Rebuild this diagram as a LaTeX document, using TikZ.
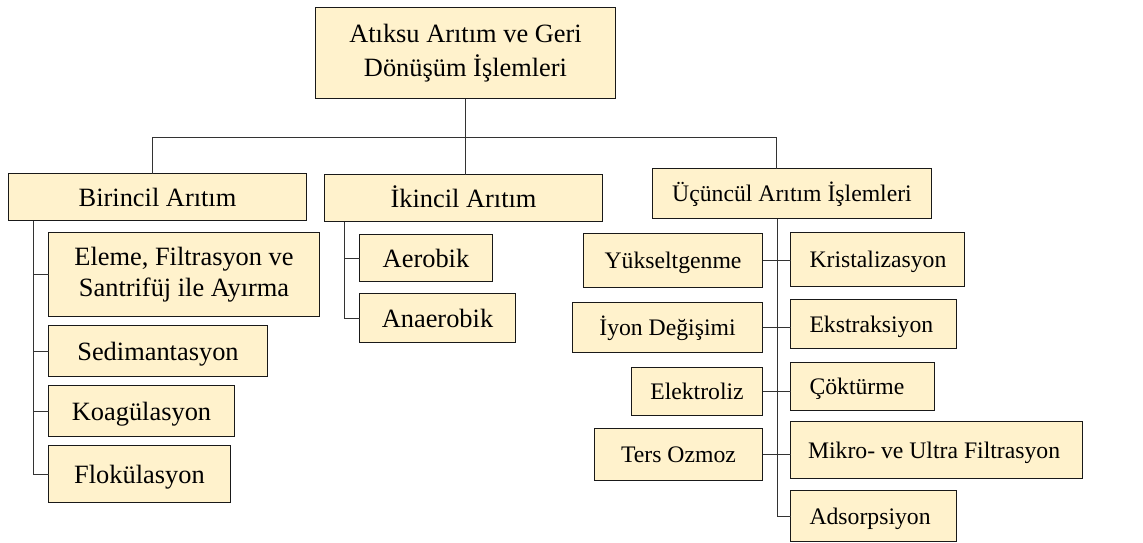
\documentclass[tikz,border=0pt]{standalone}
\usepackage{fontspec}
\setmainfont{Liberation Serif}
\usepackage{tikz}
\usetikzlibrary{positioning}

\definecolor{boxfill}{HTML}{FFF2CC}
\newcommand{\mainsize}{\fontsize{26.4}{34}\selectfont}
\newcommand{\thirdsize}{\fontsize{23.7}{28}\selectfont}

\begin{document}
\begin{tikzpicture}[x=1pt, y=-1pt]
    \tikzset{
        block/.style = {rectangle, draw=black!90, fill=boxfill, line width=1.7pt, inner sep=0pt, outer sep=0pt, font=\mainsize, text height=19pt, text depth=1pt, anchor=north west},
        sblock/.style = {block, font=\thirdsize, text height=17.5pt},
        lblock/.style = {sblock, align=flush left, inner xsep=19pt, text width=#1},
        line/.style = {draw=black!80, line width=1pt},
    }
    \useasboundingbox (0,0) rectangle (1143,543);

    \node[block, minimum width=300pt, minimum height=91pt, align=center, text height=, text depth=](root) at (315.5,7.5) {Atıksu Arıtım ve Geri\\Dönüşüm İşlemleri};

    \node[block, minimum width=298pt, minimum height=47pt](bir) at (8.5,173.5) {Birincil Arıtım};
    \node[block, minimum width=278pt, minimum height=47pt](iki) at (324.5,174.5) {İkincil Arıtım};
    \node[sblock, minimum width=279pt, minimum height=50pt](ucu) at (652.5,168.5) {Üçüncül Arıtım İşlemleri};

    \node[block, minimum width=271pt, minimum height=84pt, align=center, text height=, text depth=, font=\fontsize{26.4}{31}\selectfont](eleme) at (48.5,232.5) {Eleme, Filtrasyon ve\\Santrifüj ile Ayırma};
    \node[block, minimum width=219pt, minimum height=51pt, below=9pt of eleme.south west, anchor=north west](sedi) {Sedimantasyon};
    \node[block, minimum width=186pt, minimum height=51pt, below=9pt of sedi.south west, anchor=north west](koag) {Koagülasyon};
    \node[block, minimum width=182pt, minimum height=57pt, below=9pt of koag.south west, anchor=north west](flok) {Flokülasyon};

    \node[block, minimum width=133pt, minimum height=47pt](aero) at (359.5,234.5) {Aerobik};
    \node[block, minimum width=156pt, minimum height=49pt, below=12pt of aero.south west, anchor=north west](anae) {Anaerobik};

    \node[sblock, minimum width=179pt, minimum height=54pt, anchor=north east](yuk) at (762.5,233.5) {Yükseltgenme};
    \node[sblock, minimum width=190pt, minimum height=50pt, below=15pt of yuk.south east, anchor=north east](iyon) {İyon Değişimi};
    \node[sblock, minimum width=131pt, minimum height=48pt, below=15pt of iyon.south east, anchor=north east](elek) {Elektroliz};
    \node[sblock, minimum width=168pt, minimum height=52pt, below=13pt of elek.south east, anchor=north east](ters) {Ters Ozmoz};

    \node[lblock=136pt, minimum height=54pt](kris) at (790.5,232.5) {Kristalizasyon};
    \node[lblock=128pt, minimum height=49pt, below=13pt of kris.south west, anchor=north west](ekst) {Ekstraksiyon};
    \node[lblock=106pt, minimum height=48pt, below=14pt of ekst.south west, anchor=north west](cokt) {Çöktürme};
    \node[lblock=257pt, inner xsep=17.5pt, minimum height=57pt, below=11pt of cokt.south west, anchor=north west](mikro) {Mikro- ve Ultra Filtrasyon};
    \node[lblock=128pt, minimum height=51pt, below=12pt of mikro.south west, anchor=north west](adso) {Adsorpsiyon};

    \coordinate (busL) at (152,137);
    \coordinate (busR) at (776,137);
    \coordinate (birT) at ([xshift=25pt]bir.south west);
    \coordinate (ikiT) at ([xshift=20pt]iki.south west);
    \coordinate (ucuT) at ([xshift=125pt]ucu.south west);

    \path [line] (root.south) -- (root.south |- iki.north);
    \path [line] (busL |- bir.north) -- (busL) -- (busR) -- (busR |- ucu.north);

    \path [line] (birT) |- (flok.west);
    \path [line] (eleme.west) -- (eleme.west -| birT);
    \path [line] (sedi.west) -- (sedi.west -| birT);
    \path [line] (koag.west) -- (koag.west -| birT);

    \path [line] (ikiT) |- (anae.west);
    \path [line] (aero.west) -- (aero.west -| ikiT);

    \path [line] (ucuT) |- (adso.west);
    \path [line] (yuk.east) -- (yuk.east -| kris.west);
    \path [line] (iyon.east) -- (iyon.east -| ekst.west);
    \path [line] (elek.east) -- (elek.east -| cokt.west);
    \path [line] (ters.east) -- (ters.east -| mikro.west);

\end{tikzpicture}
\end{document}
